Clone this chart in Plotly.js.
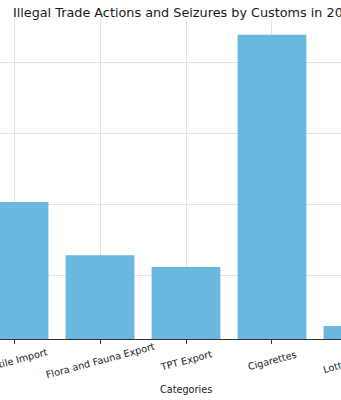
<!DOCTYPE html>
<html>
<head>
<meta charset="utf-8">
<script src="https://cdn.plot.ly/plotly-3.0.1.min.js"></script>
<style>
  html, body { margin:0; padding:0; width:341px; height:400px; overflow:hidden; background:#fff; }
  #chart { position:absolute; left:-101px; top:0; width:574px; height:400px; }
</style>
</head>
<body>
<div id="chart"></div>
<script>
// Data (y axis is logarithmic)
const categories = ["Textile Import", "Flora and Fauna Export", "TPT Export", "Cigarettes", "Lottery Tickets"];
const values = [108, 19, 13, 25000, 1.9];
const titleText = "Illegal Trade Actions and Seizures by Customs in 2023";
const xLabel = "Categories";

const font = "DejaVu Sans, sans-serif";

const trace = {
  type: "bar",
  x: categories,
  y: values,
  marker: { color: "#6ab7e0", line: { width: 0 } },
  hoverinfo: "x+y"
};

const tickAnnotations = categories.map(c => ({
  xref: "x", yref: "paper",
  x: c, y: 0,
  yshift: -21,
  text: c,
  showarrow: false,
  textangle: -15,
  xanchor: "center", yanchor: "middle",
  font: { family: font, size: 9.7, color: "#1a1a1a" }
}));

const layout = {
  width: 574, height: 400,
  margin: { l: 60, r: 60, t: 20, b: 61, pad: 0 },
  paper_bgcolor: "#fff",
  plot_bgcolor: "#fff",
  showlegend: false,
  bargap: 0.2,
  title: {
    text: titleText,
    x: 0.5, xref: "paper", xanchor: "center",
    y: 0.968, yref: "container", yanchor: "middle",
    font: { family: font, size: 12.8, color: "#1a1a1a" }
  },
  xaxis: {
    type: "category",
    range: [-0.64, 4.64],
    showticklabels: false,
    ticks: "outside", ticklen: 3.5, tickwidth: 1, tickcolor: "#333",
    showgrid: true, gridcolor: "#e3e3e3", gridwidth: 1,
    showline: true, linecolor: "#333", linewidth: 1,
    zeroline: false
  },
  yaxis: {
    type: "log",
    range: [0.0944, 4.608],
    dtick: 1,
    showgrid: true, gridcolor: "#e3e3e3", gridwidth: 1,
    showline: false, zeroline: false,
    ticks: "", showticklabels: false
  },
  annotations: tickAnnotations.concat([{
    xref: "paper", yref: "paper",
    x: 0.5, y: 0, yshift: -50,
    text: xLabel, showarrow: false,
    xanchor: "center", yanchor: "middle",
    font: { family: font, size: 9.7, color: "#1a1a1a" }
  }])
};

Plotly.newPlot("chart", [trace], layout, { displayModeBar: false, staticPlot: true });
</script>
</body>
</html>
